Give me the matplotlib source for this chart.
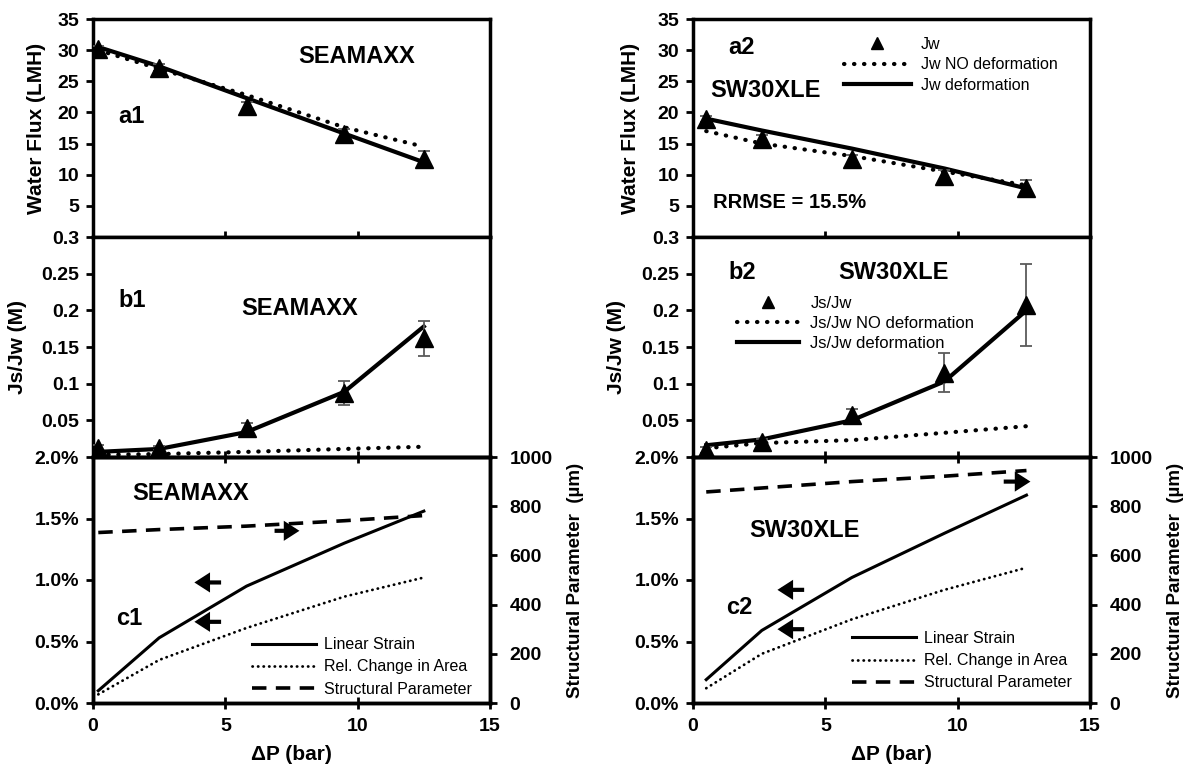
import matplotlib
matplotlib.use('Agg')
import matplotlib.pyplot as plt
from matplotlib.lines import Line2D

plt.rcParams['font.family'] = ['Liberation Sans', 'DejaVu Sans']
plt.rcParams['font.weight'] = 'bold'

# ---------------- data ----------------
dp_seamaxx = [0.2, 2.5, 5.8, 9.5, 12.5]
dp_sw30 = [0.5, 2.6, 6.0, 9.5, 12.6]

jw_seamaxx = [30.2, 27.2, 21.0, 16.5, 12.5]
jw_seamaxx_err = [0.5, 0.5, 0.6, 0.8, 1.3]
jw_nodef_seamaxx = [30.0, 27.0, 22.8, 17.6, 14.5]
jw_def_seamaxx = [30.5, 27.4, 22.3, 16.6, 12.0]

jw_sw30 = [19.0, 15.8, 12.5, 9.8, 7.9]
jw_sw30_err = [0.5, 0.5, 0.6, 1.0, 1.2]
jw_nodef_sw30 = [17.0, 15.0, 13.0, 10.5, 8.3]
jw_def_sw30 = [19.0, 17.1, 14.2, 11.0, 7.8]

jsjw_seamaxx = [0.012, 0.012, 0.040, 0.087, 0.162]
jsjw_seamaxx_err = [0.004, 0.003, 0.006, 0.016, 0.024]
jsjw_nodef_seamaxx = [0.003, 0.004, 0.007, 0.011, 0.014]
jsjw_def_seamaxx = [0.007, 0.011, 0.034, 0.089, 0.178]

jsjw_sw30 = [0.010, 0.021, 0.057, 0.115, 0.207]
jsjw_sw30_err = [0.004, 0.004, 0.008, 0.027, 0.056]
jsjw_nodef_sw30 = [0.012, 0.019, 0.023, 0.033, 0.042]
jsjw_def_sw30 = [0.016, 0.024, 0.050, 0.103, 0.200]

strain_seamaxx = [0.10, 0.53, 0.95, 1.30, 1.56]      # %
area_seamaxx = [0.07, 0.35, 0.61, 0.865, 1.02]       # %
sparam_seamaxx = [693, 705, 719, 741, 762]           # um

strain_sw30 = [0.19, 0.59, 1.02, 1.38, 1.69]         # %
area_sw30 = [0.12, 0.40, 0.68, 0.92, 1.10]           # %
sparam_sw30 = [858, 874, 900, 922, 945]              # um

x_ticks = [0, 5, 10, 15]
a_ticks = [5, 10, 15, 20, 25, 30, 35]
b_ticks = [0.05, 0.1, 0.15, 0.2, 0.25, 0.3]
b_ticklabels = ['0.05', '0.1', '0.15', '0.2', '0.25', '0.3']
c_ticks = [0.0, 0.5, 1.0, 1.5, 2.0]
c_ticklabels = ['0.0%', '0.5%', '1.0%', '1.5%', '2.0%']
r_ticks = [0, 200, 400, 600, 800, 1000]

# ---------------- layout ----------------
W, H = 1191, 771
fig = plt.figure(figsize=(W / 100, H / 100), dpi=100)


def px_axes(x0, x1, y0, y1):
    return fig.add_axes([x0 / W, 1 - y1 / H, (x1 - x0) / W, (y1 - y0) / H])


cols = [(93, 490), (693, 1090)]
rows = [(19, 237), (237, 457), (457, 703)]

TICKFS = 14
LBLFS = 15
ERRC = '#5a5a5a'


def style(ax, lab_bottom=False):
    for s in ax.spines.values():
        s.set_linewidth(2.5)
    ax.set_xlim(0, 15)
    ax.set_xticks(x_ticks)
    ax.tick_params(axis='x', direction='inout', length=8, width=2,
                   labelbottom=lab_bottom, labelsize=TICKFS, pad=7)
    ax.tick_params(axis='y', direction='out', length=5, width=2,
                   labelsize=TICKFS, pad=5)
    for t in ax.get_xticklabels() + ax.get_yticklabels():
        t.set_fontweight('bold')


def dotted(lw):
    return dict(linestyle=(0, (0.1, 2.3)), dash_capstyle='round', lw=lw)


axes = {}
for ci, (x0, x1) in enumerate(cols):
    for ri, (y0, y1) in enumerate(rows):
        axes[(ri, ci)] = px_axes(x0, x1, y0, y1)

# ---------------- a panels ----------------
for ci, (dp, jw, err, nd, de) in enumerate([
        (dp_seamaxx, jw_seamaxx, jw_seamaxx_err, jw_nodef_seamaxx, jw_def_seamaxx),
        (dp_sw30, jw_sw30, jw_sw30_err, jw_nodef_sw30, jw_def_sw30)]):
    ax = axes[(0, ci)]
    l_nd, = ax.plot(dp, nd, color='k', **dotted(3), zorder=2)
    l_de, = ax.plot(dp, de, color='k', lw=3, zorder=3)
    ax.errorbar(dp, jw, yerr=err, fmt='none', ecolor=ERRC, elinewidth=1.3,
                capsize=4, capthick=1.3, zorder=4)
    ax.plot(dp, jw, '^', color='k', ms=13, zorder=5)
    ax.set_ylim(0, 35)
    ax.set_yticks(a_ticks)
    style(ax)
    if ci == 1:
        proxy = Line2D([], [], marker='^', color='k', ms=8, linestyle='none')
        ax.legend([proxy, l_nd, l_de],
                  ['Jw', 'Jw NO deformation', 'Jw deformation'],
                  loc='upper left', bbox_to_anchor=(0.36, 0.955),
                  frameon=False, borderpad=0, handlelength=4.2,
                  handletextpad=0.6, labelspacing=0.35,
                  prop=dict(family='Liberation Sans', weight='normal', size=11.5))

axes[(0, 0)].text(9.97, 28.9, 'SEAMAXX', ha='center', va='center', fontsize=17)
axes[(0, 0)].text(1.47, 19.3, 'a1', ha='center', va='center', fontsize=17)
axes[(0, 1)].text(1.85, 30.5, 'a2', ha='center', va='center', fontsize=17)
axes[(0, 1)].text(2.72, 23.6, 'SW30XLE', ha='center', va='center', fontsize=17)
axes[(0, 1)].text(0.76, 5.6, 'RRMSE = 15.5%', ha='left', va='center', fontsize=14.5)

# ---------------- b panels ----------------
for ci, (dp, js, err, nd, de) in enumerate([
        (dp_seamaxx, jsjw_seamaxx, jsjw_seamaxx_err, jsjw_nodef_seamaxx, jsjw_def_seamaxx),
        (dp_sw30, jsjw_sw30, jsjw_sw30_err, jsjw_nodef_sw30, jsjw_def_sw30)]):
    ax = axes[(1, ci)]
    l_nd, = ax.plot(dp, nd, color='k', **dotted(3), zorder=2)
    l_de, = ax.plot(dp, de, color='k', lw=3, zorder=3)
    ax.errorbar(dp, js, yerr=err, fmt='none', ecolor=ERRC, elinewidth=1.3,
                capsize=4, capthick=1.3, zorder=4)
    ax.plot(dp, js, '^', color='k', ms=13, zorder=5)
    ax.set_ylim(0, 0.3)
    ax.set_yticks(b_ticks)
    ax.set_yticklabels(b_ticklabels)
    style(ax)
    if ci == 1:
        proxy = Line2D([], [], marker='^', color='k', ms=8, linestyle='none')
        ax.legend([proxy, l_nd, l_de],
                  ['Js/Jw', 'Js/Jw NO deformation', 'Js/Jw deformation'],
                  loc='upper left', bbox_to_anchor=(0.09, 0.77),
                  frameon=False, borderpad=0, handlelength=3.7,
                  handletextpad=0.7, labelspacing=0.3,
                  prop=dict(family='Liberation Sans', weight='normal', size=12))

axes[(1, 0)].text(1.47, 0.214, 'b1', ha='center', va='center', fontsize=17)
axes[(1, 0)].text(7.82, 0.203, 'SEAMAXX', ha='center', va='center', fontsize=17)
axes[(1, 1)].text(1.85, 0.252, 'b2', ha='center', va='center', fontsize=17)
axes[(1, 1)].text(7.56, 0.252, 'SW30XLE', ha='center', va='center', fontsize=17)

# ---------------- c panels ----------------
c_info = [
    dict(dp=dp_seamaxx, strain=strain_seamaxx, area=area_seamaxx, sp=sparam_seamaxx,
         name='SEAMAXX', name_xy=(3.68, 1.70), lab='c1', lab_xy=(1.37, 0.69),
         left_arrows=[(4.84, 3.83, 0.98), (4.84, 3.83, 0.66)],
         right_arrow=(6.86, 7.8, 1.40), leg_y=0.30),
    dict(dp=dp_sw30, strain=strain_sw30, area=area_sw30, sp=sparam_sw30,
         name='SW30XLE', name_xy=(4.2, 1.40), lab='c2', lab_xy=(1.74, 0.78),
         left_arrows=[(4.2, 3.19, 0.92), (4.2, 3.19, 0.60)],
         right_arrow=(11.74, 12.75, 1.80), leg_y=0.325),
]
for ci, info in enumerate(c_info):
    ax = axes[(2, ci)]
    axr = ax.twinx()
    l_s, = ax.plot(info['dp'], info['strain'], color='k', lw=2.2, zorder=3)
    l_a, = ax.plot(info['dp'], info['area'], color='k', lw=2.0,
                   linestyle=(0, (0.1, 1.9)), dash_capstyle='round', zorder=3)
    l_p, = axr.plot(info['dp'], info['sp'], color='k', lw=2.6,
                    linestyle=(0, (4, 2.6)), zorder=3)
    ax.set_ylim(0, 2.0)
    ax.set_yticks(c_ticks)
    ax.set_yticklabels(c_ticklabels)
    axr.set_ylim(0, 1000)
    axr.set_yticks(r_ticks)
    style(ax, lab_bottom=True)
    for s in axr.spines.values():
        s.set_linewidth(2.5)
    axr.tick_params(axis='y', direction='out', length=5, width=2,
                    labelsize=TICKFS, pad=9)
    for t in axr.get_yticklabels():
        t.set_fontweight('bold')
    ax.text(*info['name_xy'], info['name'], ha='center', va='center', fontsize=17)
    ax.text(*info['lab_xy'], info['lab'], ha='center', va='center', fontsize=17)
    arrow = dict(arrowstyle='-|>,head_length=0.7,head_width=0.45', lw=3,
                 color='k', mutation_scale=10, shrinkA=0, shrinkB=0,
                 joinstyle='miter', capstyle='butt')
    for (xt, xh, yy) in info['left_arrows']:
        ax.annotate('', xy=(xh, yy), xytext=(xt, yy), arrowprops=arrow)
    xt, xh, yy = info['right_arrow']
    ax.annotate('', xy=(xh, yy), xytext=(xt, yy), arrowprops=arrow)
    leg = ax.legend([l_s, l_a, l_p],
                    ['Linear Strain', 'Rel. Change in Area', 'Structural Parameter'],
                    loc='upper left', bbox_to_anchor=(0.38, info['leg_y']),
                    frameon=False, borderpad=0, handlelength=4.0,
                    handletextpad=0.5, labelspacing=0.45,
                    prop=dict(family='Liberation Sans', weight='normal', size=11.5))
    leg.set_zorder(10)
    ax.set_zorder(axr.get_zorder() + 1)
    ax.patch.set_visible(False)

# ---------------- axis labels ----------------
for (xpx, ypx, txt) in [(37, 128, 'Water Flux (LMH)'), (18, 347, 'Js/Jw (M)'),
                        (630, 128, 'Water Flux (LMH)'), (616, 347, 'Js/Jw (M)'),
                        (576, 580, 'Structural Parameter  (µm)'),
                        (1175, 580, 'Structural Parameter  (µm)')]:
    fig.text(xpx / W, 1 - ypx / H, txt, rotation=90, ha='center', va='center',
             fontsize=LBLFS if 'Struct' not in txt else 13.5, fontweight='bold')

for xpx in (291, 891):
    fig.text(xpx / W, 1 - 755 / H, 'ΔP (bar)', ha='center', va='center',
             fontsize=15, fontweight='bold')

fig.savefig('out.png', dpi=100)
